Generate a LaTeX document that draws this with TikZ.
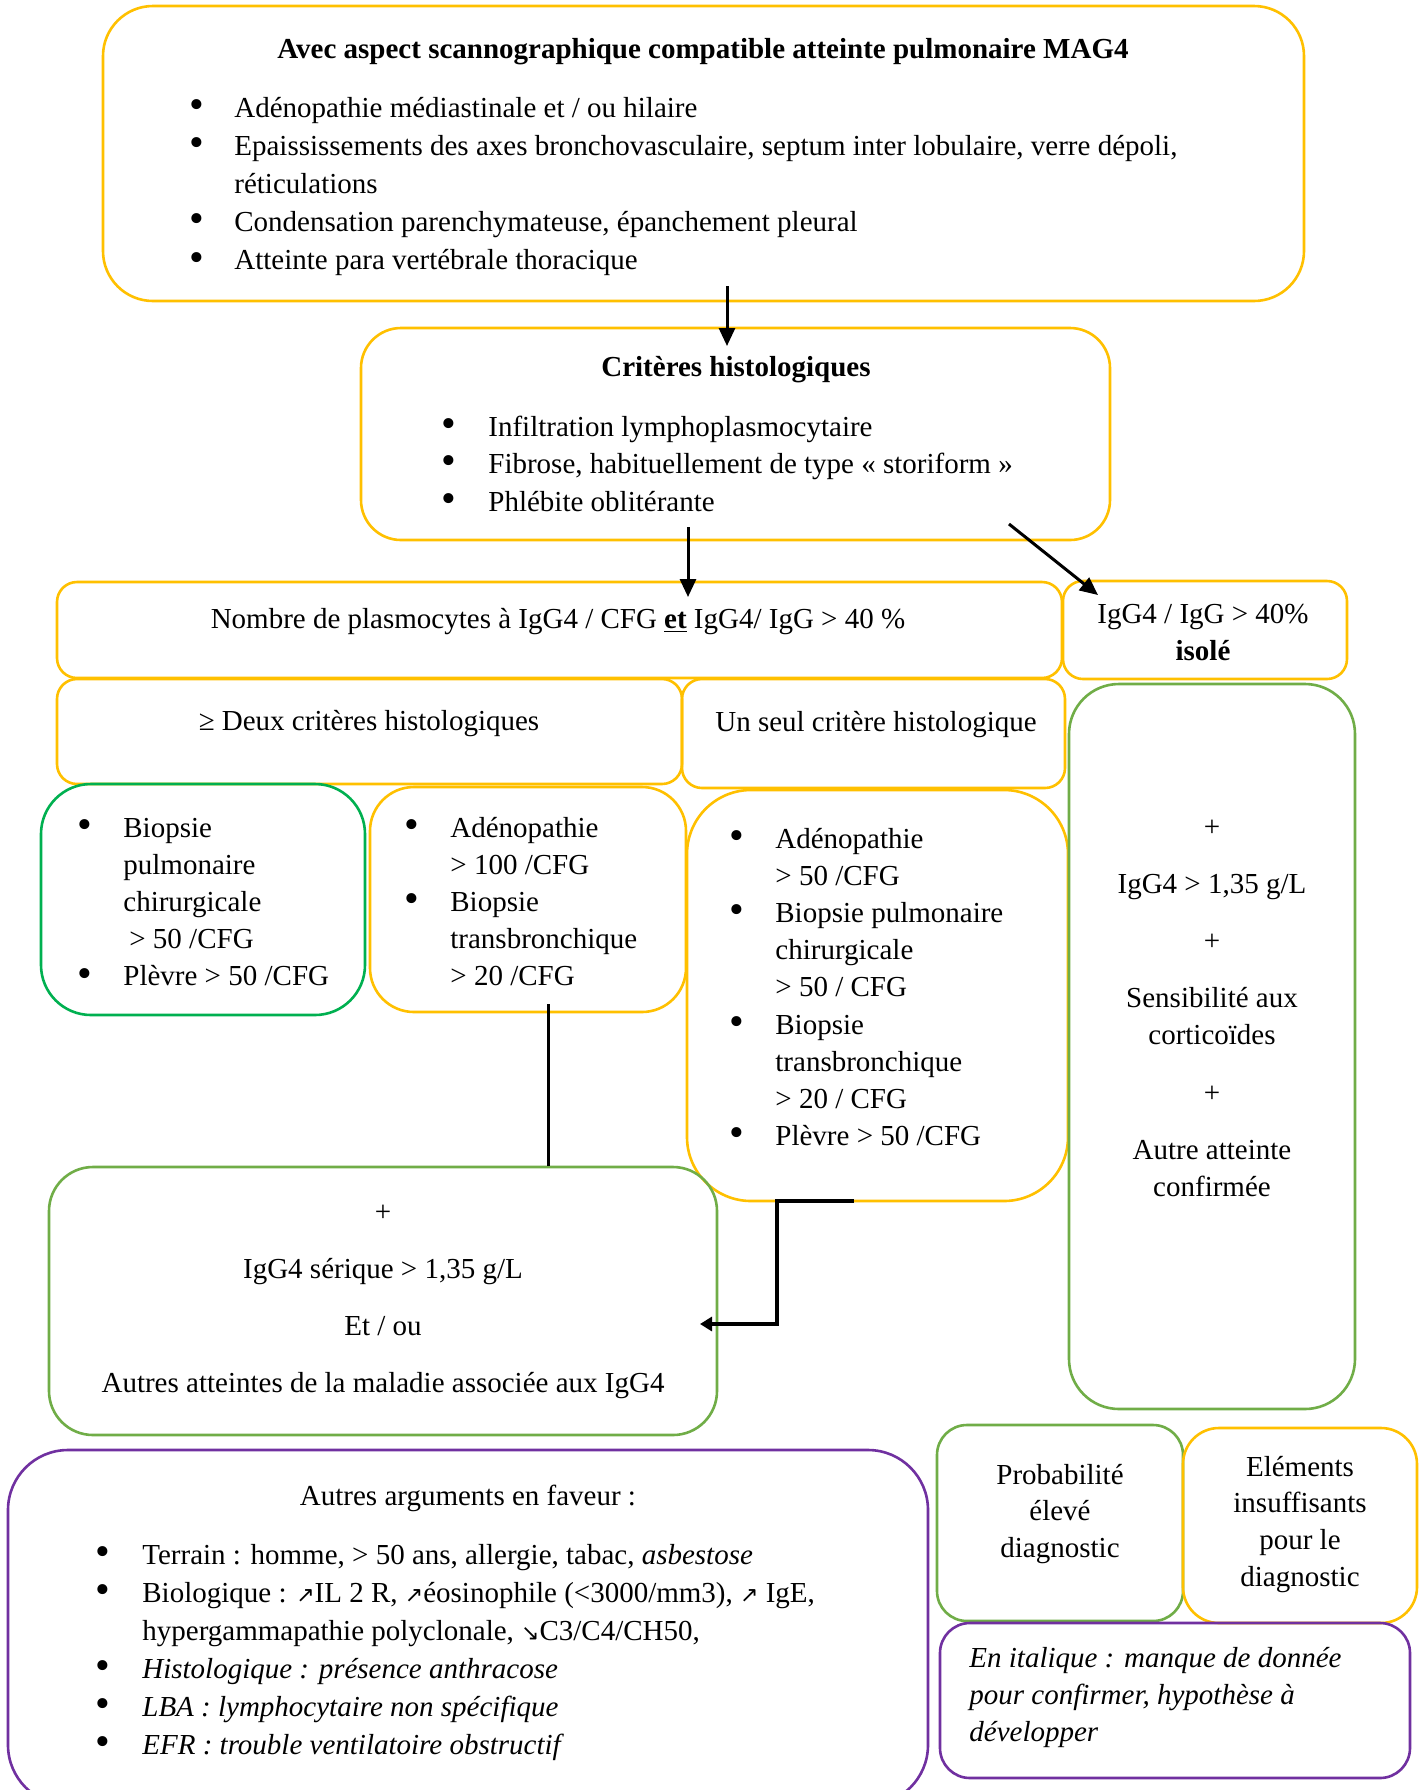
\documentclass[tikz,border=0pt]{standalone}
\usepackage{fontspec}
\setmainfont{Liberation Serif}
\newfontfamily\arrfont{DejaVu Sans}
\usetikzlibrary{fit,arrows.meta}
\definecolor{yel}{HTML}{FFC000}
\definecolor{grn}{HTML}{70AD47}
\definecolor{dgrn}{HTML}{00B050}
\definecolor{pur}{HTML}{7030A0}
\newcommand{\bul}{\raisebox{-0.6pt}{\scalebox{1.45}{\textbullet}}}
\newcommand{\blist}[2]{\begin{tabular}[t]{@{}p{#1}@{}l@{}}#2\end{tabular}}
\newcommand{\clist}[1]{\begin{tabular}[t]{@{}c@{}}#1\end{tabular}}
\newcommand{\upar}{{\arrfont\fontsize{11}{11}\selectfont ↗}}
\newcommand{\dnar}{{\arrfont\fontsize{11}{11}\selectfont ↘}}
\begin{document}
\begin{tikzpicture}[x=0.5pt,y=-0.5pt,
  box/.style={draw, line width=1.3pt, inner sep=0pt},
  ybox/.style={box, draw=yel},
  gbox/.style={box, draw=grn},
  dgbox/.style={box, draw=dgrn},
  pbox/.style={box, draw=pur},
  txt/.style={inner sep=0pt, font=\fontsize{14.5}{18.6}\selectfont},
  arr/.style={line width=1.5pt, -{Triangle[length=9pt,width=8pt]}},
  lin/.style={line width=1.5pt},
  arrb/.style={line width=2pt, -{Triangle[length=6pt,width=7pt]}},
]
\useasboundingbox (0,0) rectangle (1424,1790);
\clip (0,0) rectangle (1424,1790);
\fill[white] (0,0) rectangle (1424,1790);

% boxes
\node[ybox, rounded corners=25pt, fit={(103,6) (1304,301)}] (top) {};
\node[ybox, rounded corners=20pt, fit={(361,328) (1110,540)}] (crit) {};
\node[ybox, rounded corners=10pt, fit={(57,582) (1062,678)}] (nomb) {};
\node[ybox, rounded corners=10pt, fit={(1063,581) (1347,679)}] (isole) {};
\node[ybox, rounded corners=10pt, fit={(57,679) (682,784)}] (deux) {};
\node[ybox, rounded corners=10pt, fit={(682,679) (1065,788)}] (seul) {};
\node[dgbox, rounded corners=25pt, fit={(41,784) (365,1015)}] (biop) {};
\node[ybox, rounded corners=22pt, fit={(370,787) (686,1012)}] (aden) {};
\node[ybox, rounded corners=32pt, fit={(687,790) (1068,1201)}] (seulc) {};
\node[gbox, rounded corners=25pt, fit={(1069,684) (1355,1409)}] (right) {};
\node[gbox, rounded corners=22pt, fit={(49,1167) (717,1435)}] (serum) {};
\node[pbox, rounded corners=30pt, fit={(8,1450) (928,1805)}] (autres) {};
\node[gbox, rounded corners=15pt, fit={(937,1425) (1183,1621)}] (proba) {};
\node[ybox, rounded corners=18pt, fit={(1183,1428) (1417,1623)}] (elem) {};
\node[pbox, rounded corners=15pt, fit={(940,1623) (1410,1778)}] (ital) {};

% texts
\node[txt, anchor=base] (t0) at (703,58) {\textbf{Avec aspect scannographique compatible atteinte pulmonaire MAG4}};
\node[txt, anchor=base west, font=\fontsize{14.5}{19.1}\selectfont] (t1) at (189,117) {\blist{22.5pt}{%
 \bul & Adénopathie médiastinale et / ou hilaire\\
 \bul & Epaississements des axes bronchovasculaire, septum inter lobulaire, verre dépoli,\\
 & réticulations\\
 \bul & Condensation parenchymateuse, épanchement pleural\\
 \bul & Atteinte para vertébrale thoracique}};

\node[txt, anchor=base] (c0) at (736,376) {\textbf{Critères histologiques}};
\node[txt, anchor=base west, font=\fontsize{14.5}{18.8}\selectfont] (c1) at (441,436) {\blist{23.5pt}{%
 \bul & Infiltration lymphoplasmocytaire\\
 \bul & Fibrose, habituellement de type « storiform »\\
 \bul & Phlébite oblitérante}};

\node[txt, anchor=base] (n0) at (558,628) {Nombre de plasmocytes à IgG4 / CFG \underline{\textbf{et}} IgG4/ IgG > 40 \%};
\node[txt, anchor=base] (i0) at (1203,623) {\clist{IgG4 / IgG > 40\%\\ \textbf{isolé}}};
\node[txt, anchor=base] (d0) at (369,730) {≥ Deux critères histologiques};
\node[txt, anchor=base] (s0) at (876,731) {Un seul critère histologique};

\node[txt, anchor=base west] (b1) at (77,837) {\blist{23pt}{%
 \bul & Biopsie\\
 & pulmonaire\\
 & chirurgicale\\
 & \hspace{3pt}> 50 /CFG\\
 \bul & Plèvre > 50 /CFG}};
\node[txt, anchor=base west] (a1) at (404,837) {\blist{23pt}{%
 \bul & Adénopathie\\
 & > 100 /CFG\\
 \bul & Biopsie\\
 & transbronchique\\
 & > 20 /CFG}};
\node[txt, anchor=base west] (u1) at (729,848) {\blist{23pt}{%
 \bul & Adénopathie\\
 & > 50 /CFG\\
 \bul & Biopsie pulmonaire\\
 & chirurgicale\\
 & > 50 / CFG\\
 \bul & Biopsie\\
 & transbronchique\\
 & > 20 / CFG\\
 \bul & Plèvre > 50 /CFG}};

\node[txt, anchor=base] (r1) at (1212,836) {\clist{+\\[10pt] IgG4 > 1,35 g/L\\[10pt] +\\[10pt] Sensibilité aux\\ corticoïdes\\[10pt] +\\[10pt] Autre atteinte\\ confirmée}};

\node[txt, anchor=base] (g1) at (383,1221) {\clist{+\\[10pt] IgG4 sérique > 1,35 g/L\\[10pt] Et / ou\\[10pt] Autres atteintes de la maladie associée aux IgG4}};

\node[txt, anchor=base] (p0) at (468,1505) {Autres arguments en faveur :};
\node[txt, anchor=base west, font=\fontsize{14.5}{19}\selectfont] (p1) at (95,1564) {\blist{23.5pt}{%
 \bul & Terrain : homme, > 50 ans, allergie, tabac, \textit{asbestose}\\
 \bul & Biologique : \upar IL 2 R, \upar éosinophile (<3000/mm3), \upar\ IgE,\\
 & hypergammapathie polyclonale, \dnar C3/C4/CH50,\\
 \bul & \textit{Histologique : présence anthracose}\\
 \bul & \textit{LBA : lymphocytaire non spécifique}\\
 \bul & \textit{EFR : trouble ventilatoire obstructif}}};

\node[txt, anchor=base, font=\fontsize{14.5}{18.3}\selectfont] (q1) at (1060,1484) {\clist{Probabilité\\ élevé\\ diagnostic}};
\node[txt, anchor=base, font=\fontsize{14.5}{18.4}\selectfont] (e1) at (1300,1476) {\clist{Eléments\\ insuffisants\\ pour le\\ diagnostic}};
\node[txt, anchor=base west] (it1) at (969,1667) {\begin{tabular}[t]{@{}l@{}}\itshape En italique : manque de donnée\\ \itshape pour confirmer, hypothèse à\\ \itshape développer\end{tabular}};

% connectors
\coordinate (s1) at (727,286);
\coordinate (e1a) at (727,346);
\coordinate (s2) at (688,527);
\coordinate (e2a) at (688,597);
\coordinate (s3) at (1009,524);
\coordinate (e3a) at (1098,595);
\coordinate (s4) at (548,1004);
\coordinate (s5) at (854,1201);
\coordinate (k5) at (777,1201);
\coordinate (e5a) at (700,1324);
\draw[arr] (s1) -- (e1a);
\draw[arr] (s2) -- (e2a);
\draw[arr] (s3) -- (e3a);
\draw[lin] (s4) -- (s4 |- serum.north);
\draw[arrb] (s5) -- (k5) |- (e5a);
\end{tikzpicture}
\end{document}
